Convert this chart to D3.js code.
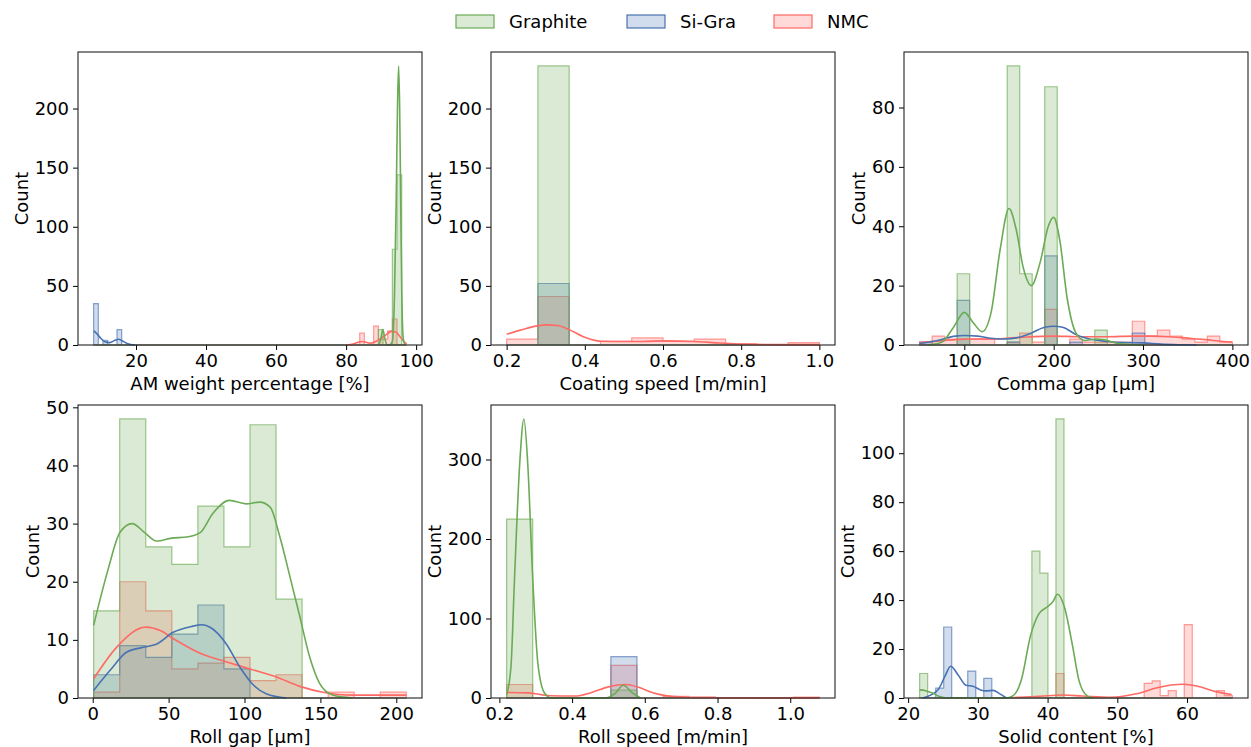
<!DOCTYPE html>
<html>
<head>
<meta charset="utf-8">
<script src="https://cdn.jsdelivr.net/npm/d3@7"></script>
<style>
  body { margin: 0; background: #fff; }
  svg text { font-family: "DejaVu Sans", sans-serif; }
</style>
</head>
<body>
<div class="canvas"></div>
<script>
// series (legend order) and colours
const seriesNames = ['Graphite', 'Si-Gra', 'NMC'];
const seriesColors = ['#6bab55', '#4872b2', '#ff6a64'];

// turn {binIndex: count} into a full count array
const sparse = (n, pairs) => {
    const a = new Array(n).fill(0);
    Object.entries(pairs).forEach(([i, v]) => a[+i] = v);
    return a;
};

// ---- AM weight percentage [%] ----
const amEdges = d3.range(68).map(i => 7.9 + i * 1.333);
const amCounts = [
    sparse(67, {61: 13, 64: 81, 65: 144}),
    sparse(67, {0: 35, 2: 4, 5: 13}),
    sparse(67, {57: 10, 60: 16, 61: 5, 62: 5, 63: 12, 64: 22})
];
const amKde = [
    [[89.3,0],[89.9,5],[90.5,13],[91.1,5],[91.7,0],[92.6,0.5],[93.2,3],[93.8,40],[94.3,120],[94.7,205],[95.0,236],[95.3,200],[95.6,120],[95.9,45],[96.3,6],[96.8,0]],
    [[8.0,12],[9.0,9],[10.0,5.5],[11.0,3],[12.5,2],[14.0,4],[15.0,4.8],[16.4,3],[17.5,1.2],[18.5,0.4],[19.7,0]],
    [[80.2,0],[82,0.8],[84.5,3],[86.9,1.5],[88.5,3],[90.7,7],[93.0,11.5],[94.2,11],[95.4,7],[96.5,3],[97.3,1]]
];
const amXTicks = [20, 40, 60, 80, 100];
const amYTicks = [0, 50, 100, 150, 200];

// ---- Coating speed [m/min] ----
const csEdges = d3.range(11).map(i => 0.2 + i * 0.08);
const csCounts = [
    [0, 236, 0, 0, 0, 0, 0, 0, 0, 0],
    [0, 52, 0, 0, 0, 0, 0, 0, 0, 0],
    [5, 41, 0, 3, 6, 3, 5, 1, 0, 2]
];
const csKde = [
    null,
    null,
    [[0.2,9],[0.25,14],[0.3,17],[0.33,16.5],[0.36,13],[0.4,6.5],[0.44,3.2],[0.5,3],[0.55,3],[0.6,3.5],[0.68,3],[0.745,1.7],[0.8,0.8],[0.9,0.3],[1.0,0.3]]
];
const csXTicks = [0.2, 0.4, 0.6, 0.8, 1.0];
const csYTicks = [0, 50, 100, 150, 200];

// ---- Comma gap [µm] ----
const cgEdges = d3.range(26).map(i => 50 + i * 14);
const cgCounts = [
    [0, 0, 0, 24, 0, 0, 0, 94, 24, 0, 87, 0, 0, 0, 5, 0, 0, 0, 0, 0, 0, 0, 0, 0, 0],
    [1, 0, 0, 15, 0, 0, 0, 1, 0, 0, 30, 0, 1, 0, 0, 0, 0, 4, 0, 0, 0, 0, 0, 0, 0],
    [1, 3, 2, 2, 2, 2, 0, 1, 4, 1, 12, 0, 2, 1, 1, 1, 1, 8, 3, 5, 3, 2, 1, 3, 1]
];
const cgKde = [
    [[60,0],[75,1],[88,6],[100,11],[110,7.5],[120,4.5],[130,11],[140,32],[150,46],[158,39],[166,26],[175,20],[185,28],[194,40],[200,43],[207,35],[215,16],[225,4],[235,1.5],[248,2],[260,1.5],[272,0.5],[290,0.1],[300,0]],
    [[50,0.5],[70,1.5],[90,3],[100,3.2],[115,3],[130,2.3],[145,2],[160,2.5],[175,4],[190,6],[200,6.3],[210,6],[225,3.5],[240,2],[260,1.2],[280,0.8],[300,0.7],[320,0.3],[340,0.1],[360,0]],
    [[50,0.8],[70,1.3],[90,1.8],[110,2],[130,2],[150,2.3],[170,2.7],[200,3],[230,2.8],[260,2.8],[290,3],[310,3],[330,2.8],[350,2.3],[370,1.8],[390,1.2],[400,1]]
];
const cgXTicks = [100, 200, 300, 400];
const cgYTicks = [0, 20, 40, 60, 80];

// ---- Roll gap [µm] ----
const rgEdges = d3.range(13).map(i => 0.6 + i * 17.17);
const rgCounts = [
    [15, 48, 26, 23, 33, 26, 47, 17, 0, 0, 0, 0],
    [4, 9, 7, 11, 16, 5, 0, 0, 0, 0, 0, 0],
    [1, 20, 15, 5, 6, 7, 3, 4, 0, 1, 0, 1]
];
const rgKde = [
    [[0.6,12.5],[10,22],[18,28.5],[26,30],[34,28.5],[42,27],[52,27.5],[62,27.7],[71,28.5],[79,31.7],[90,34],[101,33.4],[110,33.7],[117,32.8],[123,28],[130,20.8],[136,14.5],[143,7],[149.5,2.5],[158,0.5],[171,0]],
    [[0.6,1.3],[11.6,4.8],[22.5,7.9],[35,8.8],[42.3,9.3],[53,11.3],[65,12.3],[72,12.6],[77,12.2],[88,9.3],[97,5.3],[106,2.2],[114.6,0.7],[127.7,0]],
    [[0.6,3.3],[16,8.8],[35,12.2],[44.5,11.6],[53.2,10.2],[70.8,7.7],[88.3,6.2],[103.6,5],[121,3.6],[136.4,2],[151.7,1],[171.4,0.5],[206.6,0.5]]
];
const rgXTicks = [0, 50, 100, 150, 200];
const rgYTicks = [0, 10, 20, 30, 40, 50];

// ---- Roll speed [m/min] ----
const rsEdges = d3.range(13).map(i => 0.22 + i * 0.07167);
const rsCounts = [
    [225, 0, 0, 0, 10, 0, 0, 0, 0, 0, 0, 0],
    [0, 0, 0, 0, 52, 0, 0, 0, 0, 0, 0, 0],
    [17, 0, 0, 0, 41, 0, 2, 1, 0, 0, 0, 1]
];
const rsKde = [
    [[0.22,4],[0.232,40],[0.2415,148],[0.256,295],[0.2675,351],[0.278,295],[0.292,148],[0.306,43],[0.3245,6],[0.343,0],[0.49,0],[0.518,5.5],[0.541,16],[0.564,7],[0.588,0]],
    null,
    [[0.22,7],[0.28,6.5],[0.34,2.8],[0.408,2.5],[0.454,7],[0.5,14],[0.546,17],[0.583,13.5],[0.62,7],[0.657,3],[0.713,1],[0.8,0.4],[0.9,0.2],[1.08,0.2]]
];
const rsXTicks = [0.2, 0.4, 0.6, 0.8, 1.0];
const rsYTicks = [0, 100, 200, 300];

// ---- Solid content [%] ----
const scEdges = d3.range(40).map(i => 21.65 + i * 1.15);
const scCounts = [
    sparse(39, {0: 10, 14: 60, 15: 51, 17: 114}),
    sparse(39, {2: 4, 3: 29, 6: 11, 8: 8}),
    sparse(39, {17: 10, 28: 6, 29: 7, 30: 1, 31: 3, 33: 30, 37: 3, 38: 1})
];
const scKde = [
    [[21.65,3.3],[22.5,3],[23.5,2],[24.5,0.6],[25.5,0],[34,0],[35,0.8],[36.2,7],[37.6,26],[38.8,34.6],[40,37.3],[40.8,39.5],[41.4,42.4],[42.4,37.3],[43.6,21],[44.5,7.2],[45.7,0.8],[46.5,0]],
    [[22.1,0],[24.3,3.4],[25.3,9],[26.1,13],[27.2,9.3],[28.3,5.2],[29.3,4.8],[30.3,3.4],[31.2,2.9],[32.2,3.1],[33.1,1.8],[34.1,0]],
    [[35.2,0.2],[38.9,0.7],[42.2,1.2],[45,0.8],[49.1,0.3],[52.9,1.8],[55.7,4.2],[59.5,5.6],[61.5,4.8],[64.3,2.5],[66.4,1.4]]
];
const scXTicks = [20, 30, 40, 50, 60];
const scYTicks = [0, 20, 40, 60, 80, 100];

const xLabels = ['AM weight percentage [%]', 'Coating speed [m/min]', 'Comma gap [µm]',
                 'Roll gap [µm]', 'Roll speed [m/min]', 'Solid content [%]'];

const panels = [
    {edges: amEdges, counts: amCounts, kde: amKde, xTicks: amXTicks, yTicks: amYTicks, fmt: d3.format('d')},
    {edges: csEdges, counts: csCounts, kde: csKde, xTicks: csXTicks, yTicks: csYTicks, fmt: d3.format('.1f')},
    {edges: cgEdges, counts: cgCounts, kde: cgKde, xTicks: cgXTicks, yTicks: cgYTicks, fmt: d3.format('d')},
    {edges: rgEdges, counts: rgCounts, kde: rgKde, xTicks: rgXTicks, yTicks: rgYTicks, fmt: d3.format('d')},
    {edges: rsEdges, counts: rsCounts, kde: rsKde, xTicks: rsXTicks, yTicks: rsYTicks, fmt: d3.format('.1f')},
    {edges: scEdges, counts: scCounts, kde: scKde, xTicks: scXTicks, yTicks: scYTicks, fmt: d3.format('d')}
];

// layout
const fontSize = 18;
const colX = [78, 491, 904];
const rowY = [52, 405];
const graphWidth = 344;
const graphHeight = 293;

const svg = d3.select('.canvas')
    .append('svg')
        .attr('width', 1251)
        .attr('height', 747);

panels.forEach((p, i) => {
    const left = colX[i % 3];
    const top = rowY[Math.floor(i / 3)];
    const graph = svg.append('g')
        .attr('transform', `translate(${left}, ${top})`);

    // matplotlib style 5% margins on x
    const lo = p.edges[0], hi = p.edges[p.edges.length - 1];
    const pad = (hi - lo) * 0.05;
    const x = d3.scaleLinear()
        .domain([lo - pad, hi + pad])
        .range([0, graphWidth]);

    const kdeMax = d3.max(p.kde.filter(k => k).flat(), d => d[1]) || 0;
    const yMax = Math.max(d3.max(p.counts.flat()), kdeMax);
    const y = d3.scaleLinear()
        .domain([0, yMax * 1.05])
        .range([graphHeight, 0]);

    const line = d3.line().x(d => x(d[0])).y(d => y(d[1]));

    // step histograms, last hue first
    [2, 1, 0].forEach(s => {
        const c = p.counts[s];
        const pts = [[p.edges[0], 0]];
        c.forEach((v, j) => {
            pts.push([p.edges[j], v]);
            pts.push([p.edges[j + 1], v]);
        });
        pts.push([p.edges[c.length], 0]);
        graph.append('path')
            .attr('d', line(pts) + 'Z')
            .attr('fill', seriesColors[s])
            .attr('fill-opacity', 0.25)
            .attr('stroke', seriesColors[s])
            .attr('stroke-opacity', 0.65)
            .attr('stroke-width', 1.2)
            .attr('stroke-linejoin', 'miter');
    });

    // kde lines on top
    const smooth = d3.line().curve(d3.curveMonotoneX).x(d => x(d[0])).y(d => y(d[1]));
    [2, 1, 0].forEach(s => {
        if (!p.kde[s]) return;
        graph.append('path')
            .attr('d', smooth(p.kde[s]))
            .attr('fill', 'none')
            .attr('stroke', seriesColors[s])
            .attr('stroke-width', 1.6);
    });

    // axes
    const xAxisGroup = graph.append('g')
        .attr('transform', `translate(0, ${graphHeight})`)
        .call(d3.axisBottom(x).tickValues(p.xTicks).tickFormat(p.fmt).tickSize(5).tickPadding(4));
    const yAxisGroup = graph.append('g')
        .call(d3.axisLeft(y).tickValues(p.yTicks).tickSize(5).tickPadding(4));

    [xAxisGroup, yAxisGroup].forEach(a => {
        a.select('.domain').remove();
        a.selectAll('text')
            .attr('font-size', fontSize)
            .attr('font-family', '"DejaVu Sans", sans-serif')
            .attr('fill', '#000');
        a.selectAll('line').attr('stroke', '#000').attr('stroke-width', 1);
    });

    // frame
    graph.append('rect')
        .attr('x', 0)
        .attr('y', 0)
        .attr('width', graphWidth)
        .attr('height', graphHeight)
        .attr('fill', 'none')
        .attr('stroke', '#222')
        .attr('stroke-width', 1.1);

    // labels
    const maxTick = d3.max(yAxisGroup.selectAll('text').nodes(), n => n.getComputedTextLength());
    graph.append('text')
        .attr('transform', `translate(${-(5 + 4 + maxTick + 7)}, ${graphHeight / 2}) rotate(-90)`)
        .attr('text-anchor', 'middle')
        .attr('font-size', fontSize)
        .text('Count');

    graph.append('text')
        .attr('x', graphWidth / 2)
        .attr('y', graphHeight + 45)
        .attr('text-anchor', 'middle')
        .attr('font-size', fontSize)
        .text(xLabels[i]);
});

// legend
const legendX = [456, 627, 774];
const legend = svg.append('g');
seriesNames.forEach((name, s) => {
    legend.append('rect')
        .attr('x', legendX[s])
        .attr('y', 15)
        .attr('width', 38)
        .attr('height', 13)
        .attr('fill', seriesColors[s])
        .attr('fill-opacity', 0.25)
        .attr('stroke', seriesColors[s])
        .attr('stroke-width', 1.2);
    legend.append('text')
        .attr('x', legendX[s] + 53)
        .attr('y', 28)
        .attr('font-size', fontSize)
        .text(name);
});
</script>
</body>
</html>
